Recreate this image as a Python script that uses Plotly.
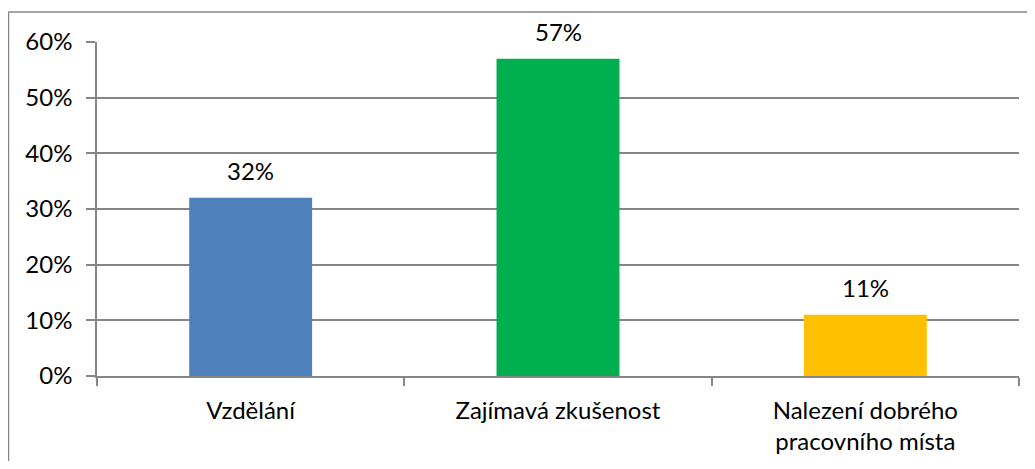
import plotly.graph_objects as go

categories = ["Vzdělání", "Zajímavá zkušenost", "Nalezení dobrého<br>pracovního místa"]
values = [32, 57, 11]
colors = ["#4F81BD", "#00B050", "#FFC000"]
y_ticks = [0, 10, 20, 30, 40, 50, 60]
y_tick_labels = [f"{t}%" for t in y_ticks]

# page body has an 8px margin; figure occupies pixels 8..1027 x 8..461
W, H = 1019, 453
L, R, T, B = 89, 8, 34, 85
FONT = dict(family="Lato, Open Sans, sans-serif", size=24, color="#000000")
GRID = "#868686"

fig = go.Figure()
fig.add_trace(go.Bar(
    x=categories, y=values, marker=dict(color=colors, line=dict(width=0)),
    width=0.4, showlegend=False, hoverinfo="skip",
))

for c, v in zip(categories, values):
    fig.add_annotation(x=c, y=v, text=f"{v}%", showarrow=False,
                       yanchor="bottom", yshift=11, font=FONT)

pw = W - L - R
ph = H - T - B
bx = (0.5 - L) / pw
by = (H - B - 4) / ph
fig.add_shape(type="line", xref="paper", yref="paper",
              x0=bx, x1=bx, y0=-2, y1=by, line=dict(color=GRID, width=1.5))
fig.add_shape(type="line", xref="paper", yref="paper",
              x0=bx, x1=2, y0=by, y1=by, line=dict(color=GRID, width=1.5))

fig.update_layout(
    width=W, height=H, margin=dict(l=L, r=R, t=T, b=B, autoexpand=False),
    paper_bgcolor="white", plot_bgcolor="white", font=FONT, bargap=0.6,
)
fig.update_xaxes(
    showline=True, linecolor=GRID, linewidth=1.5,
    ticks="outside", tickson="boundaries", ticklen=8, tickcolor=GRID, tickwidth=1.5,
    showgrid=False, tickfont=FONT, ticklabelstandoff=12,
)
fig.update_yaxes(
    range=[0, 60], tickvals=y_ticks, ticktext=y_tick_labels,
    showline=True, linecolor=GRID, linewidth=1.5,
    ticks="outside", ticklen=9, tickcolor=GRID, tickwidth=1.5,
    showgrid=True, gridcolor=GRID, gridwidth=1.5, zeroline=False,
    tickfont=FONT, ticklabelstandoff=9,
)

fig.write_html("out.html")
